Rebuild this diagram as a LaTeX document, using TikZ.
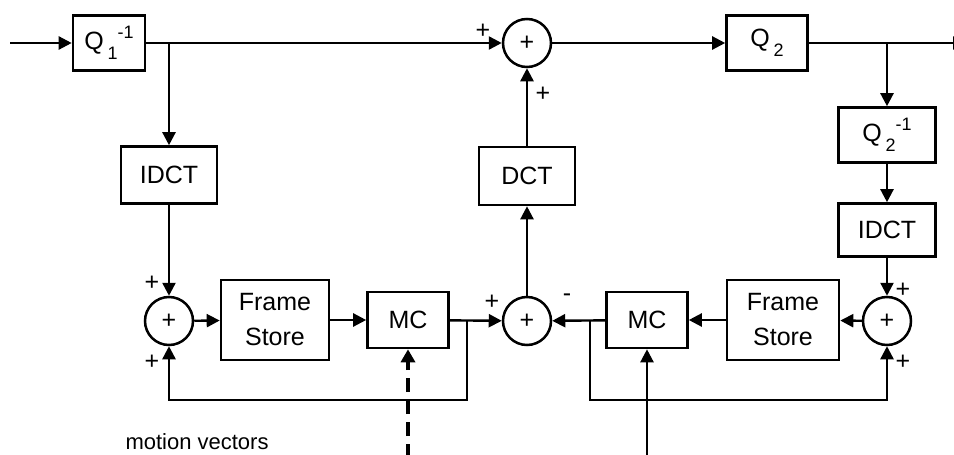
\documentclass[tikz,border=0pt]{standalone}
\usepackage{fontspec}
\setmainfont{Liberation Sans}
\usetikzlibrary{arrows.meta, positioning, calc}

\newcommand{\scr}[1]{{\fontsize{18}{18}\selectfont #1}}
\newcommand{\qname}[2]{Q\hspace{4pt}\raisebox{-10pt}{\scr{#1}}\raisebox{11pt}{\scr{#2}}}

\begin{document}
\begin{tikzpicture}[
    x=1pt, y=-1pt,
    every node/.style={font=\fontsize{25}{35}\selectfont},
    block/.style={draw, line width=2.6pt, inner sep=0pt, align=center},
    sumnode/.style={draw, circle, line width=2.5pt, minimum size=48pt, inner sep=0pt},
    sig/.style={line width=2.4pt, -{Triangle[length=13pt, width=13pt]}},
    mvec/.style={line width=4pt, dash pattern=on 14pt off 8pt, -{Triangle[length=13pt, width=14pt]}},
    sign/.style={inner sep=0pt},
  ]
    \useasboundingbox (0,0) rectangle (954,455);

    % top path
    \node[block, minimum width=72pt, minimum height=55pt] (q1) at (109,43) {\qname{1}{-1}};
    \node[sumnode] (sumT) at (527,43) {+};
    \node[block, minimum width=81pt, minimum height=55pt] (q2) at (767,43) {\qname{2}{}};
    \node[block, minimum width=97pt, minimum height=55pt] (qi2) at (887,135) {\qname{2}{-1}};
    \node[block, minimum width=97pt, minimum height=53pt] (idctB) at (887,230) {IDCT};
    \node[block, minimum width=96pt, minimum height=57pt] (idctA) at (169,175) {IDCT};
    \node[block, minimum width=96pt, minimum height=58pt] (dct) at (527,176) {DCT};

    % bottom loop
    \node[sumnode] (sumL) at (169,321) {+};
    \node[block, minimum width=108pt, minimum height=80pt] (fsL) at (275,320) {Frame\\Store};
    \node[block, minimum width=81pt, minimum height=56pt] (mcL) at (408,320) {MC};
    \node[sumnode] (sumM) at (527,321) {+};
    \node[block, minimum width=81pt, minimum height=56pt] (mcR) at (647,320) {MC};
    \node[block, minimum width=112pt, minimum height=80pt] (fsR) at (783,320) {Frame\\Store};
    \node[sumnode] (sumR) at (887,321) {+};

    \node[anchor=base west, font=\fontsize{22}{26}\selectfont] (mvtext) at (122,449) {motion vectors};

    % signs
    \node[sign] (sT1) at (483,31) {+};
    \node[sign] (sT2) at (543,94) {+};
    \node[sign] (sL1) at (152,283) {+};
    \node[sign] (sL2) at (152,362) {+};
    \node[sign] (sM1) at (492,302) {+};
    \node[sign] (sM2) at (567,298) {-};
    \node[sign] (sR1) at (903,290) {+};
    \node[sign] (sR2) at (903,362) {+};

    \coordinate (in) at (10,43);
    \coordinate (out) at (966,43);
    \coordinate (brL) at (467,320);
    \coordinate (loopL) at (467,400);
    \coordinate (brR) at (590,320);
    \coordinate (loopR) at (590,400);
    \coordinate (mvL) at (408,458);
    \coordinate (mvR) at (647,458);

    \draw[sig] (in) -- (q1);
    \draw[sig] (q1) -- (sumT);
    \draw[sig] (sumT) -- (q2);
    \draw[sig] (q2) -- (out);
    \draw[sig] (idctA |- q1) -- (idctA);
    \draw[sig] (idctA) -- (sumL);
    \draw[sig] (qi2 |- q2) -- (qi2);
    \draw[sig] (qi2) -- (idctB);
    \draw[sig] (idctB) -- (sumR);

    \draw[sig] (sumL) -- (fsL);
    \draw[sig] (fsL) -- (mcL);
    \draw[sig] (mcL) -- (sumM);
    \draw[sig] (brL) -- (loopL) -| (sumL);

    \draw[sig] (sumR) -- (fsR);
    \draw[sig] (fsR) -- (mcR);
    \draw[sig] (mcR) -- (sumM);
    \draw[sig] (brR) -- (loopR) -| (sumR);

    \draw[sig] (sumM) -- (dct);
    \draw[sig] (dct) -- (sumT);

    \draw[mvec] (mvL) -- (mcL);
    \draw[sig] (mvR) -- (mcR);
  \end{tikzpicture}
\end{document}
